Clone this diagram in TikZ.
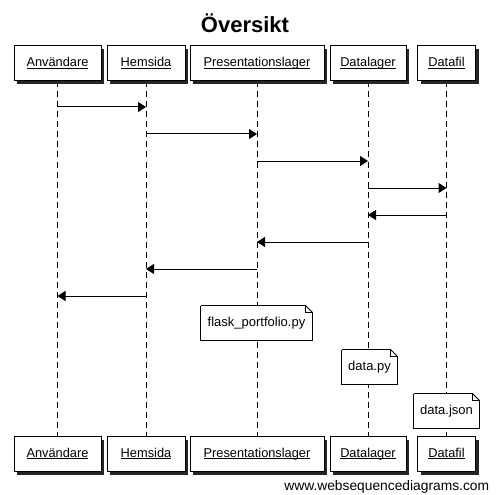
\documentclass[tikz,border=0pt]{standalone}
\usepackage{fontspec}
\setmainfont{Liberation Sans}
\usepackage{tikz}
\usetikzlibrary{arrows.meta,shadows,backgrounds}

\newcommand\ulname[1]{\setbox0\hbox{#1}\rlap{\rule[-2pt]{\wd0}{0.8pt}}\box0}

\begin{document}
\begin{tikzpicture}[x=1pt,y=-1pt,line width=1pt,
  actor/.style={draw,fill=white,minimum height=35pt,inner sep=0pt,
    text height=9.5pt,text depth=3pt,
    font=\fontsize{12.8}{15}\selectfont,
    drop shadow={shadow xshift=3pt,shadow yshift=-3pt,fill=black!85,opacity=1}},
  lifeline/.style={dash pattern=on 6pt off 4pt},
  msg/.style={-{Triangle[length=8pt,width=10pt]}},
  note/.style={fill=white,minimum height=34pt,inner sep=0pt,
    text height=9.5pt,text depth=3pt,
    font=\fontsize{13}{15}\selectfont,
    append after command={
      (\tikzlastnode.north west) edge[draw,-] ([xshift=-7pt]\tikzlastnode.north east)
      ([xshift=-7pt]\tikzlastnode.north east) edge[draw,-] ([yshift=-7pt]\tikzlastnode.north east)
      ([xshift=-7pt]\tikzlastnode.north east) edge[draw,-] ([xshift=-7pt,yshift=-7pt]\tikzlastnode.north east)
      ([xshift=-7pt,yshift=-7pt]\tikzlastnode.north east) edge[draw,-] ([yshift=-7pt]\tikzlastnode.north east)
      ([yshift=-7pt]\tikzlastnode.north east) edge[draw,-] (\tikzlastnode.south east)
      (\tikzlastnode.south east) edge[draw,-] (\tikzlastnode.south west)
      (\tikzlastnode.south west) edge[draw,-] (\tikzlastnode.north west)}}]

\useasboundingbox (0,0) rectangle (496,495);

\node[font=\fontsize{22}{26}\selectfont\bfseries] (title) at (245,23) {Översikt};

% deltagare, uppe
\node[actor,minimum width=87pt] (anv) at (57.5,63.5) {\ulname{Användare}};
\node[actor,minimum width=78pt] (hem) at (146,63.5) {\ulname{Hemsida}};
\node[actor,minimum width=134pt] (pres) at (257,63.5) {\ulname{Presentationslager}};
\node[actor,minimum width=76pt] (dlag) at (368,63.5) {\ulname{Datalager}};
\node[actor,minimum width=58pt] (dfil) at (446.5,63.5) {\ulname{Datafil}};

% deltagare, nere
\node[actor,minimum width=87pt] (anvB) at (57.5,454) {\ulname{Användare}};
\node[actor,minimum width=78pt] (hemB) at (146,454) {\ulname{Hemsida}};
\node[actor,minimum width=134pt] (presB) at (257,454) {\ulname{Presentationslager}};
\node[actor,minimum width=76pt] (dlagB) at (368,454) {\ulname{Datalager}};
\node[actor,minimum width=58pt] (dfilB) at (446.5,454) {\ulname{Datafil}};

\begin{scope}[on background layer]
\draw[lifeline] (anv) -- (anvB);
\draw[lifeline] (hem) -- (hemB);
\draw[lifeline] (pres) -- (presB);
\draw[lifeline] (dlag) -- (dlagB);
\draw[lifeline] (dfil) -- (dfilB);
\end{scope}

\coordinate (r1) at (0,107);
\coordinate (r2) at (0,134);
\coordinate (r3) at (0,161);
\coordinate (r4) at (0,188);
\coordinate (r5) at (0,215);
\coordinate (r6) at (0,242);
\coordinate (r7) at (0,269);
\coordinate (r8) at (0,296);

\draw[msg] (anv |- r1) -- (hem |- r1);
\draw[msg] (hem |- r2) -- (pres |- r2);
\draw[msg] (pres |- r3) -- (dlag |- r3);
\draw[msg] (dlag |- r4) -- (dfil |- r4);
\draw[msg] (dfil |- r5) -- (dlag |- r5);
\draw[msg] (dlag |- r6) -- (pres |- r6);
\draw[msg] (pres |- r7) -- (hem |- r7);
\draw[msg] (hem |- r8) -- (anv |- r8);

% anteckningar
\node[note,minimum width=111pt] (flask) at (256.5,323) {flask\_portfolio.py};
\node[note,minimum width=55pt] (datapy) at (369.5,367) {data.py};
\node[note,minimum width=65pt] (datajson) at (446.5,411) {data.json};

\node[anchor=east,font=\fontsize{13.8}{16}\selectfont] (wsd) at (493,487) {www.websequencediagrams.com};

\end{tikzpicture}
\end{document}
